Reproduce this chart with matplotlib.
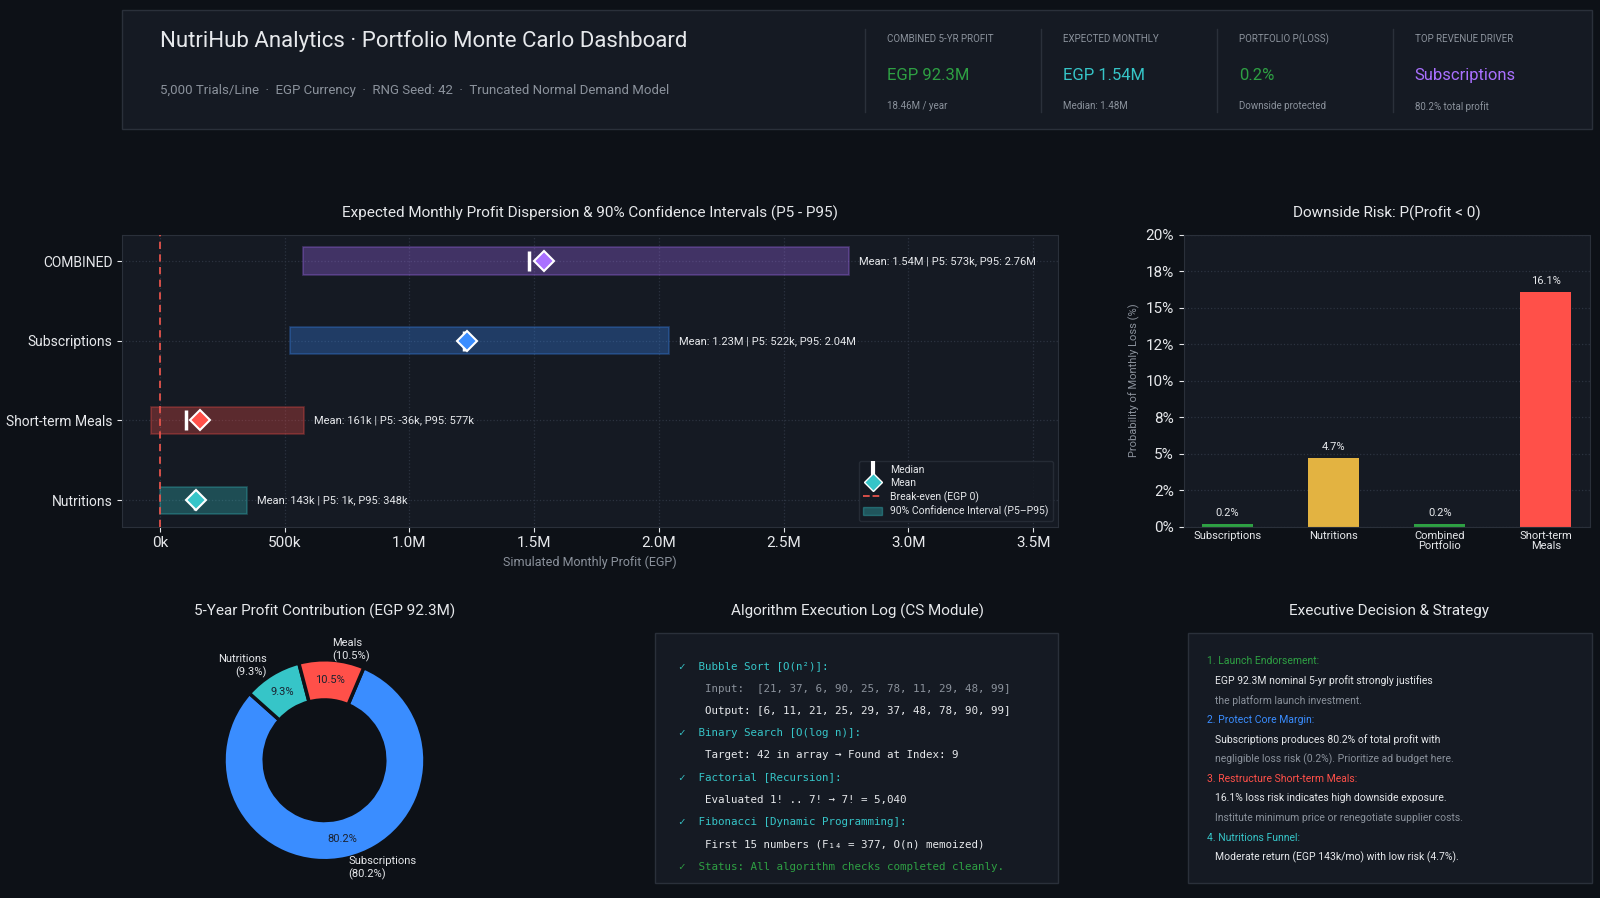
import matplotlib
matplotlib.use("Agg")
import matplotlib.pyplot as plt
from matplotlib.patches import Rectangle, Patch
from matplotlib.lines import Line2D
from matplotlib.ticker import FuncFormatter, MultipleLocator

plt.rcParams['font.family'] = ['Roboto', 'DejaVu Sans']

# ---------------- data ----------------
lines = ["Nutritions", "Short-term Meals", "Subscriptions", "COMBINED"]
means = [143e3, 161e3, 1.23e6, 1.54e6]
medians = [140e3, 105e3, 1.22e6, 1.48e6]
p5 = [1e3, -36e3, 522e3, 573e3]
p95 = [348e3, 577e3, 2.04e6, 2.76e6]
line_colors = ["#36c5c8", "#ff5049", "#3a8dff", "#a970ff"]

risk_cats = ["Subscriptions", "Nutritions", "Combined\nPortfolio", "Short-term\nMeals"]
risk_vals = [0.2, 4.7, 0.2, 16.1]
risk_colors = ["#2ea043", "#e3b341", "#2ea043", "#ff5049"]

pie_labels = ["Subscriptions", "Nutritions", "Meals"]
pie_vals = [80.2, 9.3, 10.5]
pie_colors = ["#3a8dff", "#36c5c8", "#ff5049"]

kpi_labels = ["COMBINED 5-YR PROFIT", "EXPECTED MONTHLY", "PORTFOLIO P(LOSS)", "TOP REVENUE DRIVER"]
kpi_values = ["EGP 92.3M", "EGP 1.54M", "0.2%", "Subscriptions"]
kpi_subs = ["18.46M / year", "Median: 1.48M", "Downside protected", "80.2% total profit"]
kpi_colors = ["#2ea043", "#36c5c8", "#2ea043", "#a970ff"]

log_lines = [
    ("\u2713  Bubble Sort [O(n\u00b2)]:", "#36c5c8", 0),
    ("Input:  [21, 37, 6, 90, 25, 78, 11, 29, 48, 99]", "#8b929c", 1),
    ("Output: [6, 11, 21, 25, 29, 37, 48, 78, 90, 99]", "#e6e8eb", 1),
    ("\u2713  Binary Search [O(log n)]:", "#36c5c8", 0),
    ("Target: 42 in array \u2192 Found at Index: 9", "#e6e8eb", 1),
    ("\u2713  Factorial [Recursion]:", "#36c5c8", 0),
    ("Evaluated 1! .. 7! \u2192 7! = 5,040", "#e6e8eb", 1),
    ("\u2713  Fibonacci [Dynamic Programming]:", "#36c5c8", 0),
    ("First 15 numbers (F\u2081\u2084 = 377, O(n) memoized)", "#e6e8eb", 1),
    ("\u2713  Status: All algorithm checks completed cleanly.", "#2ea043", 0),
]

strat_lines = [
    ("1. Launch Endorsement:", "#2ea043", 0),
    ("EGP 92.3M nominal 5-yr profit strongly justifies", "#e6e8eb", 1),
    ("the platform launch investment.", "#8b929c", 1),
    ("2. Protect Core Margin:", "#3a8dff", 0),
    ("Subscriptions produces 80.2% of total profit with", "#e6e8eb", 1),
    ("negligible loss risk (0.2%). Prioritize ad budget here.", "#8b929c", 1),
    ("3. Restructure Short-term Meals:", "#ff5049", 0),
    ("16.1% loss risk indicates high downside exposure.", "#e6e8eb", 1),
    ("Institute minimum price or renegotiate supplier costs.", "#8b929c", 1),
    ("4. Nutritions Funnel:", "#36c5c8", 0),
    ("Moderate return (EGP 143k/mo) with low risk (4.7%).", "#e6e8eb", 1),
]

# ---------------- style ----------------
BG = "#0d1117"
PANEL = "#151a23"
EDGE = "#2a303a"
GRID = "#2c3340"
TXT = "#e6e8eb"
MUTED = "#8b929c"
W, H = 1568, 880  # coordinate space used for layout measurements

fig = plt.figure(figsize=(16, 8.98), dpi=100, facecolor=BG)

def rect(x0, y0, x1, y1):
    return [x0 / W, 1 - y1 / H, (x1 - x0) / W, (y1 - y0) / H]

def fx(x): return x / W
def fy(y): return 1 - y / H

def panel(x0, y0, x1, y1):
    fig.patches.append(Rectangle((fx(x0), fy(y1)), (x1 - x0) / W, (y1 - y0) / H,
                                 transform=fig.transFigure, facecolor=PANEL,
                                 edgecolor=EDGE, lw=1, zorder=0))

# ---------------- header ----------------
panel(120, 10, 1560, 126)
fig.text(fx(157), fy(40), "NutriHub Analytics \u00b7 Portfolio Monte Carlo Dashboard",
         color=TXT, fontsize=16, va="center")
fig.text(fx(157), fy(89), "5,000 Trials/Line  \u00b7  EGP Currency  \u00b7  RNG Seed: 42  \u00b7  Truncated Normal Demand Model",
         color=MUTED, fontsize=9.5, va="center")
for i, (lb, v, s, c) in enumerate(zip(kpi_labels, kpi_values, kpi_subs, kpi_colors)):
    xd = 848 + i * 172.5
    fig.add_artist(Line2D([fx(xd), fx(xd)], [fy(28), fy(110)], color=EDGE, lw=1,
                          transform=fig.transFigure))
    fig.text(fx(xd + 21), fy(38), lb, color=MUTED, fontsize=7, va="center")
    fig.text(fx(xd + 21), fy(74), v, color=c, fontsize=12, va="center")
    fig.text(fx(xd + 21), fy(104), s, color=MUTED, fontsize=7, va="center")

# ---------------- range chart ----------------
def fmt(v):
    if abs(v) >= 1e6:
        return f"{v/1e6:.2f}M"
    return f"{v/1e3:.0f}k"

ax = fig.add_axes(rect(120, 230, 1037, 516))
ax.set_facecolor(PANEL)
ys = list(range(len(lines)))
for y, m, md, a, b, c in zip(ys, means, medians, p5, p95, line_colors):
    ax.barh(y, b - a, left=a, height=0.34, color=c, alpha=0.3, edgecolor=c, lw=1.2, zorder=2)
    ax.plot([md], [y], marker="|", ms=14, mew=2.5, color="white", zorder=4)
    ax.plot([m], [y], marker="D", ms=10, color=c, mec="white", mew=1.5, zorder=5)
    ax.text(b + 40e3, y, f"Mean: {fmt(m)} | P5: {fmt(a)}, P95: {fmt(b)}",
            color=TXT, fontsize=8, va="center")
ax.axvline(0, color="#e5534b", ls=(0, (4, 3)), lw=1.3, zorder=3)
ax.set_xlim(-0.15e6, 3.6e6)
ax.set_ylim(-0.33, 3.33)
ax.set_yticks(ys)
ax.set_yticklabels(lines, color=TXT, fontsize=10)
ax.xaxis.set_major_locator(MultipleLocator(0.5e6))
ax.xaxis.set_major_formatter(FuncFormatter(lambda v, p: "0k" if v == 0 else (f"{v/1e3:.0f}k" if abs(v) < 1e6 else f"{v/1e6:.1f}M")))
ax.tick_params(axis="x", colors=TXT, labelsize=11)
ax.tick_params(axis="y", colors=TXT)
ax.grid(True, color=GRID, ls=":", lw=0.9)
ax.set_axisbelow(True)
for s in ax.spines.values():
    s.set_color(EDGE)
ax.set_xlabel("Simulated Monthly Profit (EGP)", color=MUTED, fontsize=9)
ax.set_title("Expected Monthly Profit Dispersion & 90% Confidence Intervals (P5 - P95)",
             color=TXT, fontsize=11, pad=12)
handles = [
    Line2D([], [], marker="|", ls="none", color="white", ms=12, mew=3),
    Line2D([], [], marker="D", ls="none", color="#36c5c8", mec="white", ms=9),
    Line2D([], [], color="#e5534b", ls="--", lw=1.3),
    Patch(facecolor="#36c5c8", alpha=0.35, edgecolor="#36c5c8"),
]
leg = ax.legend(handles, ["Median", "Mean", "Break-even (EGP 0)", "90% Confidence Interval (P5\u2013P95)"],
                loc="lower right", fontsize=7.5, facecolor=PANEL, edgecolor=EDGE,
                labelcolor=TXT, handlelength=1.8, borderpad=0.4, labelspacing=0.3)

# ---------------- downside risk bars ----------------
bx = fig.add_axes(rect(1160, 230, 1558, 516))
bx.set_facecolor(PANEL)
bars = bx.bar(range(len(risk_cats)), risk_vals, color=risk_colors, width=0.48, zorder=2)
for r, v in zip(bars, risk_vals):
    bx.text(r.get_x() + r.get_width() / 2, v + 0.4, f"{v:.1f}%", ha="center", va="bottom",
            color=TXT, fontsize=8)
bx.set_ylim(0, 20)
bx.yaxis.set_major_locator(MultipleLocator(2.5))
bx.yaxis.set_major_formatter(FuncFormatter(lambda v, p: f"{v:.0f}%"))
bx.set_xticks(range(len(risk_cats)))
bx.set_xticklabels(risk_cats, fontsize=8, color=TXT, linespacing=1.0)
bx.tick_params(axis="y", colors=TXT, labelsize=11)
bx.tick_params(axis="x", colors=TXT, length=0)
bx.grid(True, axis="y", color=GRID, ls=":", lw=0.9)
bx.set_axisbelow(True)
for s in bx.spines.values():
    s.set_color(EDGE)
bx.set_ylabel("Probability of Monthly Loss (%)", color=MUTED, fontsize=8)
bx.set_title("Downside Risk: P(Profit < 0)", color=TXT, fontsize=11, pad=12)

# ---------------- donut ----------------
px = fig.add_axes(rect(190, 617, 446, 873))
px.set_facecolor(BG)
wedges, texts, autot = px.pie(pie_vals, colors=pie_colors, startangle=67, counterclock=False,
                              radius=1.0, autopct="%.1f%%", pctdistance=0.8,
                              labels=[f"{l}\n({v:.1f}%)" for l, v in zip(pie_labels, pie_vals)],
                              labeldistance=1.1,
                              wedgeprops=dict(width=0.4, edgecolor=BG, linewidth=2.5),
                              textprops=dict(color=TXT, fontsize=8))
for t in autot:
    t.set_color("#1b2230")
    t.set_fontsize(8)
px.set_xlim(-1.3, 1.3)
px.set_ylim(-1.3, 1.3)
px.set_aspect("equal")
px.axis("off")
fig.text(fx(318), fy(599), "5-Year Profit Contribution (EGP 92.3M)", color=TXT, fontsize=11,
         ha="center", va="center")

# ---------------- algorithm log ----------------
panel(642, 620, 1037, 865)
fig.text(fx(840), fy(599), "Algorithm Execution Log (CS Module)", color=TXT, fontsize=11,
         ha="center", va="center")
for i, (t, c, ind) in enumerate(log_lines):
    fig.text(fx(665 + ind * 26), fy(653 + i * 21.8), t, color=c, fontsize=7.8,
             family="DejaVu Sans Mono", va="center")

# ---------------- strategy ----------------
panel(1164, 620, 1560, 865)
fig.text(fx(1361), fy(599), "Executive Decision & Strategy", color=TXT, fontsize=11,
         ha="center", va="center")
for i, (t, c, ind) in enumerate(strat_lines):
    fig.text(fx(1183 + ind * 8), fy(648 + i * 19.2), t, color=c, fontsize=7.5, va="center")

fig.savefig("out.png", dpi=100, facecolor=BG)
